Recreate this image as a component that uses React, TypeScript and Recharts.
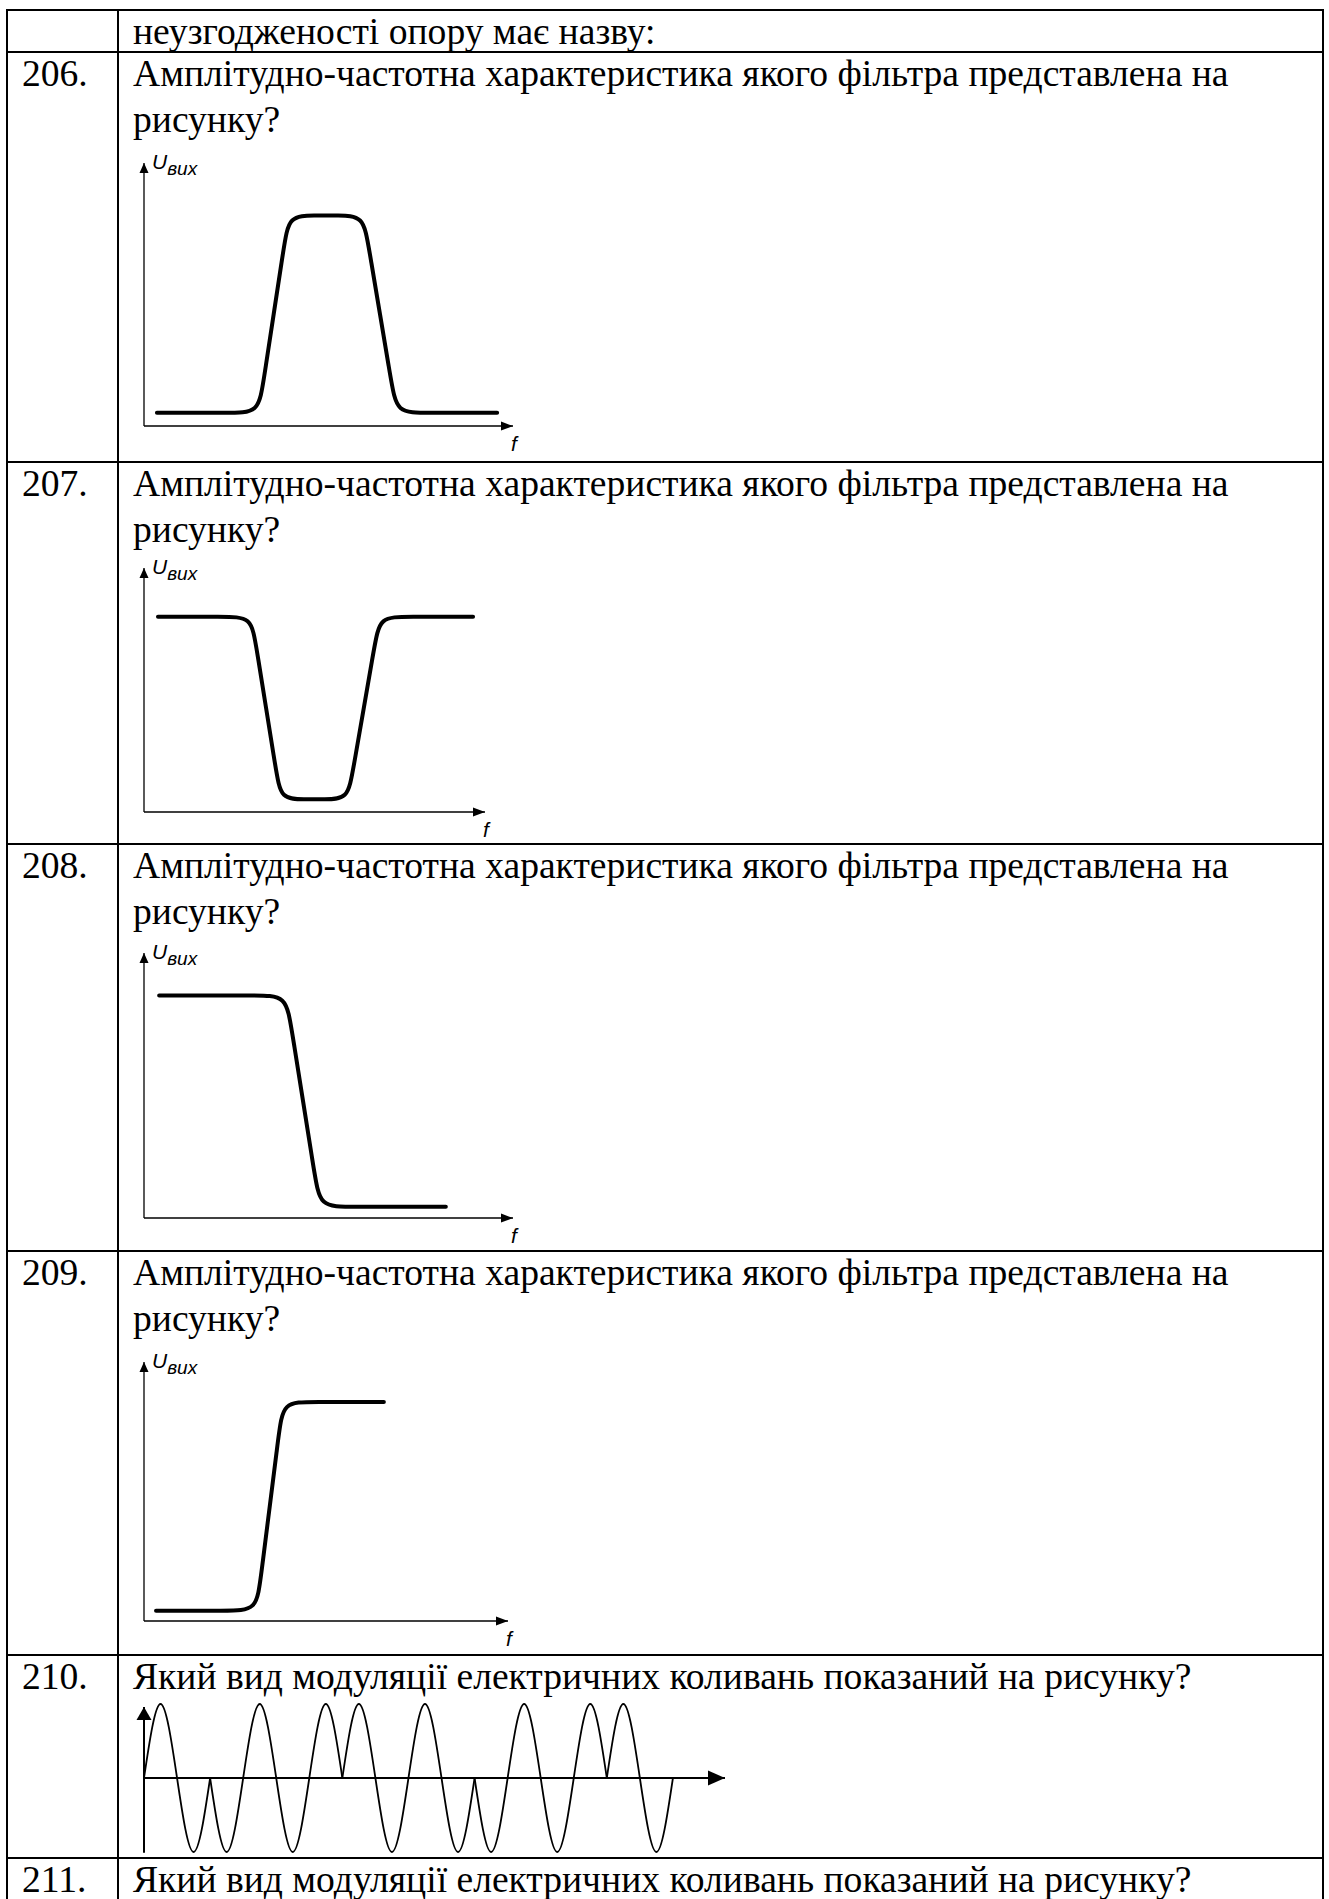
import { LineChart, Line, XAxis, YAxis, ReferenceLine, ReferenceDot } from "recharts";

// Sketched frequency responses: breakpoints (f, Uвих) in arbitrary units 0..10
const bandPassF = [0.35, 2.31, 3.11, 3.23, 3.8, 3.92, 4.62, 5.25, 5.95, 6.08, 6.71, 6.84, 7.64, 9.57];
const bandPassU = [0.5, 0.5, 0.5, 1.63, 6.88, 8.0, 8.0, 8.0, 8.0, 6.88, 1.63, 0.5, 0.5, 0.5];

const bandStopF = [0.41, 2.35, 3.15, 3.28, 3.88, 4.01, 4.71, 5.28, 5.98, 6.12, 6.77, 6.91, 7.71, 9.65];
const bandStopU = [8.0, 8.0, 8.0, 6.88, 1.64, 0.52, 0.52, 0.52, 0.52, 1.64, 6.88, 8.0, 8.0, 8.0];

const lowPassF = [0.41, 3.06, 3.86, 3.99, 4.63, 4.76, 5.56, 8.18];
const lowPassU = [8.4, 8.4, 8.4, 7.2, 1.62, 0.42, 0.42, 0.42];

const highPassF = [0.33, 2.3, 3.1, 3.2, 3.71, 3.81, 4.61, 6.59];
const highPassU = [0.4, 0.4, 0.4, 1.61, 7.25, 8.46, 8.46, 8.46];

// polarity of each half-cycle of the carrier (a repeated sign = phase jump)
const halfCycles = [1, -1, -1, 1, -1, 1, 1, -1, 1, -1, -1, 1, -1, 1, 1, -1];

const question = "Амплітудно-частотна характеристика якого фільтра представлена на";
const question2 = "Який вид модуляції електричних коливань показаний на рисунку?";

const rows = [
  { num: "", lines: ["неузгодженості опору має назву:"] },
  { num: "206.", lines: [question, "рисунку?"] },
  { num: "207.", lines: [question, "рисунку?"] },
  { num: "208.", lines: [question, "рисунку?"] },
  { num: "209.", lines: [question, "рисунку?"] },
  { num: "210.", lines: [question2] },
  { num: "211.", lines: [question2] },
];

const rowLines = [9.5, 52, 462, 844, 1251, 1655, 1858];
const colLines = [7, 118, 1323];

const filterCharts = [
  { f: bandPassF, u: bandPassU, ox: 144, oy: 426, xTip: 513, yTip: 163 },
  { f: bandStopF, u: bandStopU, ox: 144, oy: 812, xTip: 485, yTip: 568 },
  { f: lowPassF, u: lowPassU, ox: 144, oy: 1218, xTip: 513, yTip: 953 },
  { f: highPassF, u: highPassU, ox: 144, oy: 1621, xTip: 508, yTip: 1362 },
];

const serif = '"Liberation Serif", "Times New Roman", serif';
const sans = '"Liberation Sans", Arial, sans-serif';

function buildPsk(signs: number[]) {
  let seg = 0;
  const segOf = signs.map((s, i) => {
    if (i > 0 && s === signs[i - 1]) seg++;
    return seg;
  });
  const table: Record<string, number>[] = [];
  for (let k = 0; k <= signs.length * 2; k++) {
    const row: Record<string, number> = { t: k };
    if (k % 2 === 1) {
      const i = (k - 1) / 2;
      row["s" + segOf[i]] = signs[i];
    } else {
      const i = k / 2;
      if (i > 0) row["s" + segOf[i - 1]] = 0;
      if (i < signs.length) row["s" + segOf[i]] = 0;
    }
    table.push(row);
  }
  return { table, count: seg + 1 };
}

function Arrow(props: any) {
  const { cx, cy, dir, len, half, label } = props;
  const d =
    dir === "right"
      ? `M${cx},${cy} L${cx - len},${cy - half} L${cx - len},${cy + half} Z`
      : `M${cx},${cy} L${cx - half},${cy + len} L${cx + half},${cy + len} Z`;
  return (
    <g>
      <path d={d} fill="#000" />
      {label === "U" && (
        <text x={cx + 8} y={cy + 6} fontFamily={sans} fontStyle="italic" fontSize={21} fill="#000">
          U
          <tspan fontSize={19} dy={6}>
            вих
          </tspan>
        </text>
      )}
      {label === "f" && (
        <text x={cx + 1} y={cy + 25} fontFamily={sans} fontStyle="italic" fontSize={21} fill="#000" textAnchor="middle">
          f
        </text>
      )}
    </g>
  );
}

function FilterChart({ spec }: { spec: (typeof filterCharts)[number] }) {
  const data = spec.f.map((f, i) => ({ f, u: spec.u[i] }));
  const left = 120;
  const top = spec.yTip - 25;
  const width = spec.xTip - left + 30;
  const height = spec.oy - top + 32;
  return (
    <div style={{ position: "absolute", left, top }}>
      <LineChart width={width} height={height} data={data} margin={{ top: 25, right: 30, bottom: 32, left: spec.ox - left }}>
        <XAxis type="number" dataKey="f" domain={[0, 10]} hide />
        <YAxis type="number" domain={[0, 10]} hide />
        <ReferenceLine segment={[{ x: 0, y: 0 }, { x: 10, y: 0 }]} stroke="#000" strokeWidth={1.3} ifOverflow="visible" />
        <ReferenceLine segment={[{ x: 0, y: 0 }, { x: 0, y: 10 }]} stroke="#000" strokeWidth={1.3} ifOverflow="visible" />
        <ReferenceDot x={10} y={0} ifOverflow="visible" shape={(p: any) => <Arrow cx={p.cx} cy={p.cy} dir="right" len={12} half={4.5} label="f" />} />
        <ReferenceDot x={0} y={10} ifOverflow="visible" shape={(p: any) => <Arrow cx={p.cx} cy={p.cy} dir="up" len={10} half={4.5} label="U" />} />
        <Line
          type="basis"
          dataKey="u"
          stroke="#000"
          strokeWidth={4}
          strokeLinecap="round"
          dot={false}
          activeDot={false}
          isAnimationActive={false}
        />
      </LineChart>
    </div>
  );
}

function PskChart() {
  const { table, count } = buildPsk(halfCycles);
  const xMax = 35.15;
  const keys = Array.from({ length: count }, (_, i) => "s" + i);
  return (
    <div style={{ position: "absolute", left: 120, top: 1680 }}>
      <LineChart width={635} height={190} data={table} margin={{ top: 24, right: 30, bottom: 18, left: 24 }}>
        <XAxis type="number" dataKey="t" domain={[0, xMax]} hide />
        <YAxis type="number" domain={[-1, 1]} hide />
        <ReferenceLine segment={[{ x: 0, y: 0 }, { x: xMax, y: 0 }]} stroke="#000" strokeWidth={2} ifOverflow="visible" />
        <ReferenceLine segment={[{ x: 0, y: -1.01 }, { x: 0, y: 0.96 }]} stroke="#000" strokeWidth={2} ifOverflow="visible" />
        <ReferenceDot x={xMax} y={0} ifOverflow="visible" shape={(p: any) => <Arrow cx={p.cx} cy={p.cy} dir="right" len={17} half={7.5} />} />
        <ReferenceDot x={0} y={0.96} ifOverflow="visible" shape={(p: any) => <Arrow cx={p.cx} cy={p.cy} dir="up" len={13} half={7.5} />} />
        {keys.map((k) => (
          <Line
            key={k}
            type="natural"
            dataKey={k}
            stroke="#000"
            strokeWidth={1.8}
            dot={false}
            activeDot={false}
            connectNulls={false}
            isAnimationActive={false}
          />
        ))}
      </LineChart>
    </div>
  );
}

const textStyle = { position: "absolute" as const, fontFamily: serif, fontSize: 37.6, lineHeight: "46px", whiteSpace: "nowrap" as const };

export default function App() {
  return (
    <div style={{ position: "relative", width: 1329, height: 1899, overflow: "hidden", background: "#fff", color: "#000" }}>
      <style>{"body{margin:0}"}</style>
      {rowLines.map((y, i) => (
        <div key={"h" + i} style={{ position: "absolute", left: colLines[0] - 1, top: y - 1, width: colLines[2] - colLines[0] + 2, height: 2, background: "#000" }} />
      ))}
      {colLines.map((x, i) => (
        <div key={"v" + i} style={{ position: "absolute", left: x - 1, top: rowLines[0] - 1, width: 2, height: 1899 - rowLines[0] + 1, background: "#000" }} />
      ))}
      {rows.map((r, i) => (
        <div key={"r" + i}>
          <div style={{ ...textStyle, left: 22, top: rowLines[i] - 1 }}>{r.num}</div>
          <div style={{ ...textStyle, left: 133, top: rowLines[i] - 1 }}>
            {r.lines.map((l, j) => (
              <div key={j}>{l}</div>
            ))}
          </div>
        </div>
      ))}
      {filterCharts.map((c, i) => (
        <FilterChart key={i} spec={c} />
      ))}
      <PskChart />
    </div>
  );
}
